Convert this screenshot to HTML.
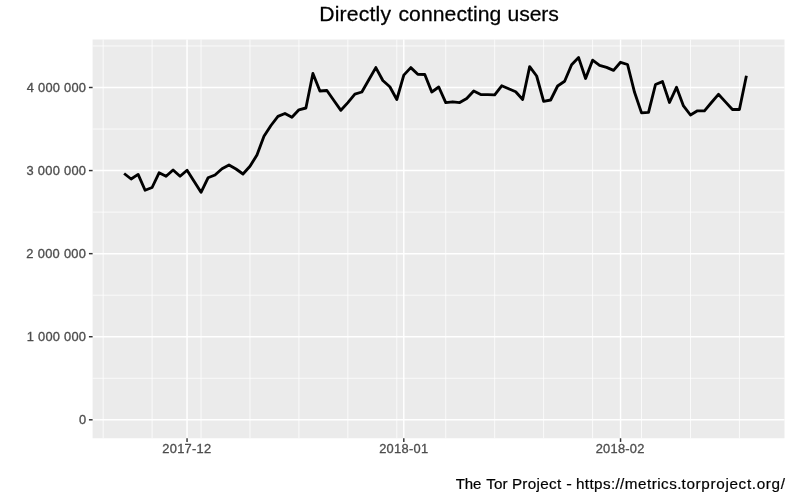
<!DOCTYPE html>
<html lang="en">
<head>
<meta charset="utf-8">
<title>Directly connecting users</title>
<style>
html,body{margin:0;padding:0;background:#ffffff;}
body{width:800px;height:500px;overflow:hidden;}
svg{display:block;}
text{font-family:"Liberation Sans",sans-serif;white-space:pre;}
.ax{font-size:11.9px;fill:#4d4d4d;stroke:#4d4d4d;stroke-width:0.3px;}
.ti{font-size:19.6px;fill:#000000;stroke:#000000;stroke-width:0.25px;}
.ca{font-size:14.1px;fill:#000000;stroke:#000000;stroke-width:0.2px;}
</style>
</head>
<body>
<svg width="800" height="500" viewBox="0 0 800 500">
<rect x="0" y="0" width="800" height="500" fill="#ffffff"/>
<rect x="92.60" y="39.50" width="691.90" height="398.75" fill="#ebebeb"/>
<g stroke="#ffffff" stroke-width="0.75" fill="none">
<line x1="92.60" y1="378.26" x2="784.50" y2="378.26"/>
<line x1="92.60" y1="295.19" x2="784.50" y2="295.19"/>
<line x1="92.60" y1="212.11" x2="784.50" y2="212.11"/>
<line x1="92.60" y1="129.04" x2="784.50" y2="129.04"/>
<line x1="92.60" y1="45.96" x2="784.50" y2="45.96"/>
<line x1="103.15" y1="39.50" x2="103.15" y2="438.25"/>
<line x1="152.09" y1="39.50" x2="152.09" y2="438.25"/>
<line x1="201.03" y1="39.50" x2="201.03" y2="438.25"/>
<line x1="249.98" y1="39.50" x2="249.98" y2="438.25"/>
<line x1="298.92" y1="39.50" x2="298.92" y2="438.25"/>
<line x1="347.87" y1="39.50" x2="347.87" y2="438.25"/>
<line x1="396.81" y1="39.50" x2="396.81" y2="438.25"/>
<line x1="445.75" y1="39.50" x2="445.75" y2="438.25"/>
<line x1="494.70" y1="39.50" x2="494.70" y2="438.25"/>
<line x1="543.64" y1="39.50" x2="543.64" y2="438.25"/>
<line x1="592.59" y1="39.50" x2="592.59" y2="438.25"/>
<line x1="641.53" y1="39.50" x2="641.53" y2="438.25"/>
<line x1="690.47" y1="39.50" x2="690.47" y2="438.25"/>
<line x1="739.42" y1="39.50" x2="739.42" y2="438.25"/>
</g>
<g stroke="#ffffff" stroke-width="1.45" fill="none">
<line x1="92.60" y1="419.80" x2="784.50" y2="419.80"/>
<line x1="92.60" y1="336.73" x2="784.50" y2="336.73"/>
<line x1="92.60" y1="253.65" x2="784.50" y2="253.65"/>
<line x1="92.60" y1="170.57" x2="784.50" y2="170.57"/>
<line x1="92.60" y1="87.50" x2="784.50" y2="87.50"/>
<line x1="187.05" y1="39.50" x2="187.05" y2="438.25"/>
<line x1="403.80" y1="39.50" x2="403.80" y2="438.25"/>
<line x1="620.55" y1="39.50" x2="620.55" y2="438.25"/>
</g>
<polyline fill="none" stroke="#000000" stroke-width="2.85" stroke-linejoin="round" stroke-linecap="butt" points="124.12,173.5 131.11,179.0 138.11,174.4 145.10,190.3 152.09,187.5 159.08,172.8 166.07,176.3 173.07,170.0 180.06,176.3 187.05,170.2 194.04,181.2 201.03,192.3 208.03,177.8 215.02,175.0 222.01,168.8 229.00,165.0 235.99,169.0 242.99,174.0 249.98,166.3 256.97,155.0 263.96,136.3 270.95,125.5 277.95,116.4 284.94,113.5 291.93,117.3 298.92,109.8 305.91,108.0 312.91,73.5 319.90,91.0 326.89,90.5 333.88,100.5 340.87,110.3 347.87,102.6 354.86,94.1 361.85,92.0 368.84,79.8 375.83,67.6 382.83,80.5 389.82,86.8 396.81,99.5 403.80,75.1 410.79,67.6 417.79,74.3 424.78,74.5 431.77,92.0 438.76,87.0 445.75,102.6 452.75,101.8 459.74,102.6 466.73,98.5 473.72,91.0 480.71,94.5 487.71,94.7 494.70,94.8 501.69,85.8 508.68,88.8 515.67,91.7 522.67,99.5 529.66,66.6 536.65,76.0 543.64,101.3 550.63,100.0 557.63,86.0 564.62,81.3 571.61,64.8 578.60,57.6 585.59,78.5 592.59,60.2 599.58,65.4 606.57,67.4 613.56,70.4 620.55,62.3 627.55,64.5 634.54,92.3 641.53,112.9 648.52,112.3 655.51,84.5 662.51,81.6 669.50,102.5 676.49,87.3 683.48,105.9 690.47,115.0 697.47,110.8 704.46,110.8 711.45,102.5 718.44,94.3 725.43,101.9 732.43,109.5 739.42,109.5 746.41,75.8"/>
<g stroke="#333333" stroke-width="1.45" fill="none">
<line x1="88.93" y1="419.80" x2="92.60" y2="419.80"/>
<line x1="88.93" y1="336.73" x2="92.60" y2="336.73"/>
<line x1="88.93" y1="253.65" x2="92.60" y2="253.65"/>
<line x1="88.93" y1="170.57" x2="92.60" y2="170.57"/>
<line x1="88.93" y1="87.50" x2="92.60" y2="87.50"/>
<line x1="187.05" y1="438.25" x2="187.05" y2="441.92"/>
<line x1="403.80" y1="438.25" x2="403.80" y2="441.92"/>
<line x1="620.55" y1="438.25" x2="620.55" y2="441.92"/>
</g>
<g opacity="0.999">
<text class="ax" transform="translate(78.89,424.00) scale(1.0792,1)" style="letter-spacing:0.000px">0</text>
<text class="ax" transform="translate(26.84,341.00) scale(1.0800,1)" style="letter-spacing:0.230px">1 000 000</text>
<text class="ax" transform="translate(26.36,258.00) scale(1.0800,1)" style="letter-spacing:0.285px">2 000 000</text>
<text class="ax" transform="translate(26.49,175.00) scale(1.0800,1)" style="letter-spacing:0.270px">3 000 000</text>
<text class="ax" transform="translate(26.78,92.00) scale(1.0800,1)" style="letter-spacing:0.237px">4 000 000</text>
<text class="ax" transform="translate(162.36,453.00) scale(1.0800,1)" style="letter-spacing:0.250px">2017-12</text>
<text class="ax" transform="translate(379.16,453.00) scale(1.0800,1)" style="letter-spacing:0.281px">2018-01</text>
<text class="ax" transform="translate(595.66,453.00) scale(1.0800,1)" style="letter-spacing:0.250px">2018-02</text>
<text class="ti" transform="translate(319.31,21.00) scale(1.0800,1)" style="letter-spacing:0.159px">Directly</text>
<text class="ti" transform="translate(398.45,21.00) scale(1.0800,1)" style="letter-spacing:0.060px">connecting</text>
<text class="ti" transform="translate(507.62,21.00) scale(1.0800,1)" style="letter-spacing:-0.125px">users</text>
<text class="ca" transform="translate(455.80,489.00) scale(1.0636,1)" style="letter-spacing:-0.150px">The</text>
<text class="ca" transform="translate(486.30,489.00) scale(1.0800,1)" style="letter-spacing:0.066px">Tor</text>
<text class="ca" transform="translate(511.88,489.00) scale(1.0800,1)" style="letter-spacing:0.322px">Project</text>
<text class="ca" transform="translate(566.15,489.00) scale(1.1869,1)" style="letter-spacing:0.000px">-</text>
<text class="ca" transform="translate(575.98,489.00) scale(1.0800,1)" style="letter-spacing:0.362px">https:</text>
<text class="ca" transform="translate(615.40,489.00) scale(1.0800,1)" style="letter-spacing:0.460px">//metrics.</text>
<text class="ca" transform="translate(681.52,489.00) scale(1.0855,1)" style="letter-spacing:0.600px">torproject.org/</text>
</g>
</svg>
</body>
</html>
